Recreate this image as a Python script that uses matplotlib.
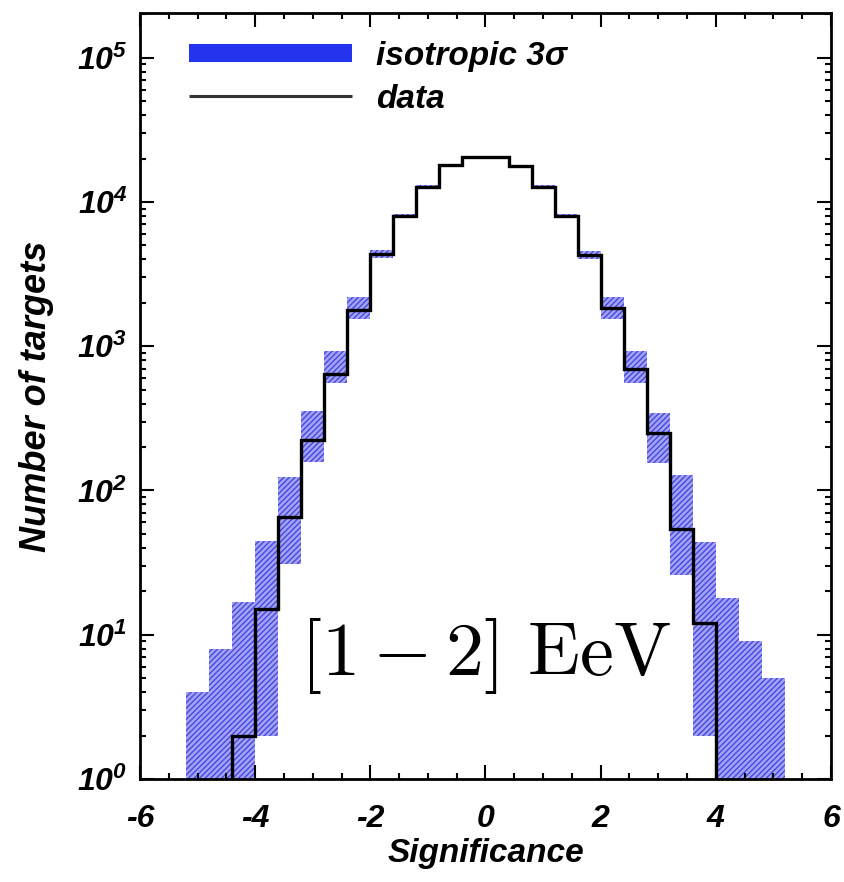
import matplotlib
matplotlib.use("Agg")
import numpy as np
import matplotlib.pyplot as plt
from matplotlib.lines import Line2D
from matplotlib.ticker import FixedLocator, LogLocator, MultipleLocator, NullFormatter

# histogram bin edges (significance, width 0.4)
bin_edges = [-5.2, -4.8, -4.4, -4.0, -3.6, -3.2, -2.8, -2.4, -2.0, -1.6, -1.2, -0.8, -0.4, 0.0,
             0.4, 0.8, 1.2, 1.6, 2.0, 2.4, 2.8, 3.2, 3.6, 4.0, 4.4, 4.8, 5.2]

# observed number of targets per bin
data_counts = [0, 0, 2, 15, 65, 225, 640, 1790, 4390, 8000, 12800, 17900, 20500,
               20500, 17650, 12800, 8000, 4280, 1850, 690, 250, 54, 12, 0, 0, 0]

# isotropic expectation, 3 sigma band
iso_low = [0, 0, 0, 2, 31, 157, 560, 1550, 4100, 7750, 12450, 17450, 20050,
           20050, 17200, 12450, 7750, 4050, 1550, 560, 155, 26, 2, 0, 0, 0]
iso_high = [4, 8, 17, 45, 125, 355, 930, 2200, 4650, 8300, 13150, 18350, 20950,
            20950, 18100, 13150, 8300, 4600, 2200, 930, 345, 128, 44, 18, 9, 5]

x_ticks = [-6, -4, -2, 0, 2, 4, 6]
y_ticks = [1, 10, 100, 1000, 10000, 100000]
y_tick_labels = [r"$10^{0}$", r"$10^{1}$", r"$10^{2}$", r"$10^{3}$", r"$10^{4}$", r"$10^{5}$"]

plt.rcParams["font.family"] = ["Liberation Sans", "DejaVu Sans"]
plt.rcParams["font.weight"] = "bold"
plt.rcParams["font.style"] = "italic"
plt.rcParams["axes.labelweight"] = "bold"
plt.rcParams["mathtext.fontset"] = "custom"
plt.rcParams["mathtext.rm"] = "Liberation Sans:bold:italic"
plt.rcParams["mathtext.it"] = "Liberation Sans:bold:italic"
plt.rcParams["mathtext.bf"] = "Liberation Sans:bold:italic"

fig = plt.figure(figsize=(8.44, 8.82), dpi=100)
ax = fig.add_axes([140 / 844, 1 - 779 / 882, 691 / 844, 766 / 882])

edges = np.array(bin_edges)
low = np.maximum(np.array(iso_low, dtype=float), 0.1)
high = np.array(iso_high, dtype=float)
counts = np.maximum(np.array(data_counts, dtype=float), 0.1)

ax.stairs(high, edges, baseline=low, fill=True, facecolor="#a3a3f6",
          edgecolor="#4747e0", hatch="//////", linewidth=0, zorder=1)
ax.stairs(counts, edges, baseline=None, color="black", linewidth=2.4, zorder=3)

ax.set_yscale("log")
ax.set_xlim(-6, 6)
ax.set_ylim(1, 10 ** 5.31)

ax.xaxis.set_major_locator(FixedLocator(x_ticks))
ax.xaxis.set_minor_locator(MultipleLocator(0.5))
ax.set_xticklabels([str(v) for v in x_ticks])
ax.yaxis.set_major_locator(FixedLocator(y_ticks))
ax.yaxis.set_minor_locator(LogLocator(base=10, subs=np.arange(2, 10)))
ax.yaxis.set_minor_formatter(NullFormatter())
ax.set_yticklabels(y_tick_labels)

ax.tick_params(which="both", direction="in", top=True, right=True, width=1.5)
ax.tick_params(which="major", length=10)
ax.tick_params(which="minor", length=4)
ax.tick_params(axis="x", which="major", pad=18, labelsize=23)
ax.tick_params(axis="y", which="major", pad=9, labelsize=23)
for side in ax.spines.values():
    side.set_linewidth(2)

ax.set_xlabel("Significance", fontsize=24, fontweight="bold")
ax.xaxis.set_label_coords(0.5, -0.077)
ax.set_ylabel("Number of targets", fontsize=26, fontweight="bold")
ax.yaxis.set_label_coords(-0.125, 0.5)

ax.text(0.5, 0.136, r"$[1-2]\ \mathrm{EeV}$", transform=ax.transAxes, ha="center",
        va="baseline", fontsize=55, math_fontfamily="cm", zorder=4)

handles = [Line2D([], [], color="#2434ee", linewidth=13, solid_capstyle="butt"),
           Line2D([], [], color="#333333", linewidth=2.2, solid_capstyle="butt")]
ax.legend(handles, ["isotropic 3σ", "data"], loc="upper left",
          bbox_to_anchor=((189 - 140) / 691, 1 - (41 - 13) / 766), frameon=False,
          fontsize=24, handlelength=4.9, handletextpad=0.7, labelspacing=0.35,
          borderpad=0, borderaxespad=0)

fig.savefig("out.png", dpi=100)
